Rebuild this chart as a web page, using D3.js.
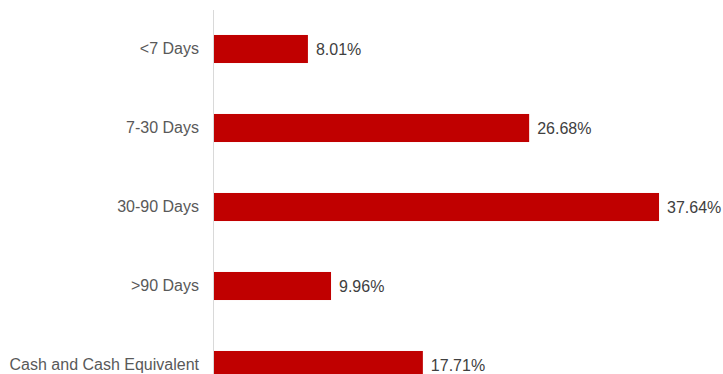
<!DOCTYPE html>
<html>
<head>
<meta charset="utf-8">
<script src="https://cdn.jsdelivr.net/npm/d3@7"></script>
<style>
  body { margin: 0; background: #fff; }
  svg { font-family: "Liberation Sans", Arial, sans-serif; }
</style>
</head>
<body>
<div id="chart"></div>
<script>
// categories and their shares (percent)
const categories = ['<7 Days', '7-30 Days', '30-90 Days', '>90 Days', 'Cash and Cash Equivalent'];
const shares     = [8.01, 26.68, 37.64, 9.96, 17.71];

const width  = 723,
      height = 374,
      left   = 213,
      step   = 79;

const svg = d3.select('#chart')
  .append('svg')
  .attr('width', width)
  .attr('height', height);

const x = d3.scaleLinear()
  .domain([0, 40])
  .range([left, left + 40 * 11.85]);

const y = d3.scaleBand()
  .domain(categories)
  .range([9.5, 9.5 + step * categories.length])
  .paddingInner(0.645)
  .paddingOuter(0.3225);

// category axis
const yAxis = svg.append('g')
  .attr('transform', 'translate(' + left + ',0)')
  .call(d3.axisLeft(y).tickSize(0).tickSizeOuter(0).tickPadding(14));

yAxis.select('.domain')
  .attr('stroke', '#d9d9d9');

yAxis.selectAll('text')
  .attr('fill', '#595959')
  .style('font-size', '16px')
  .style('font-family', '"Liberation Sans", Arial, sans-serif');

const rows = categories.map((c, i) => ({cat: c, val: shares[i]}));

svg.append('g')
  .selectAll('rect')
  .data(rows)
  .join('rect')
  .attr('x', x(0) + 1)
  .attr('y', d => y(d.cat))
  .attr('width', d => x(d.val) - x(0) - 1)
  .attr('height', y.bandwidth())
  .attr('fill', '#c00000');

svg.append('g')
  .selectAll('text')
  .data(rows)
  .join('text')
  .attr('x', d => x(d.val) + 8)
  .attr('y', d => y(d.cat) + y.bandwidth() / 2)
  .attr('dy', '0.35em')
  .attr('fill', '#404040')
  .style('font-size', '16px')
  .text(d => d.val.toFixed(2) + '%');
</script>
</body>
</html>
